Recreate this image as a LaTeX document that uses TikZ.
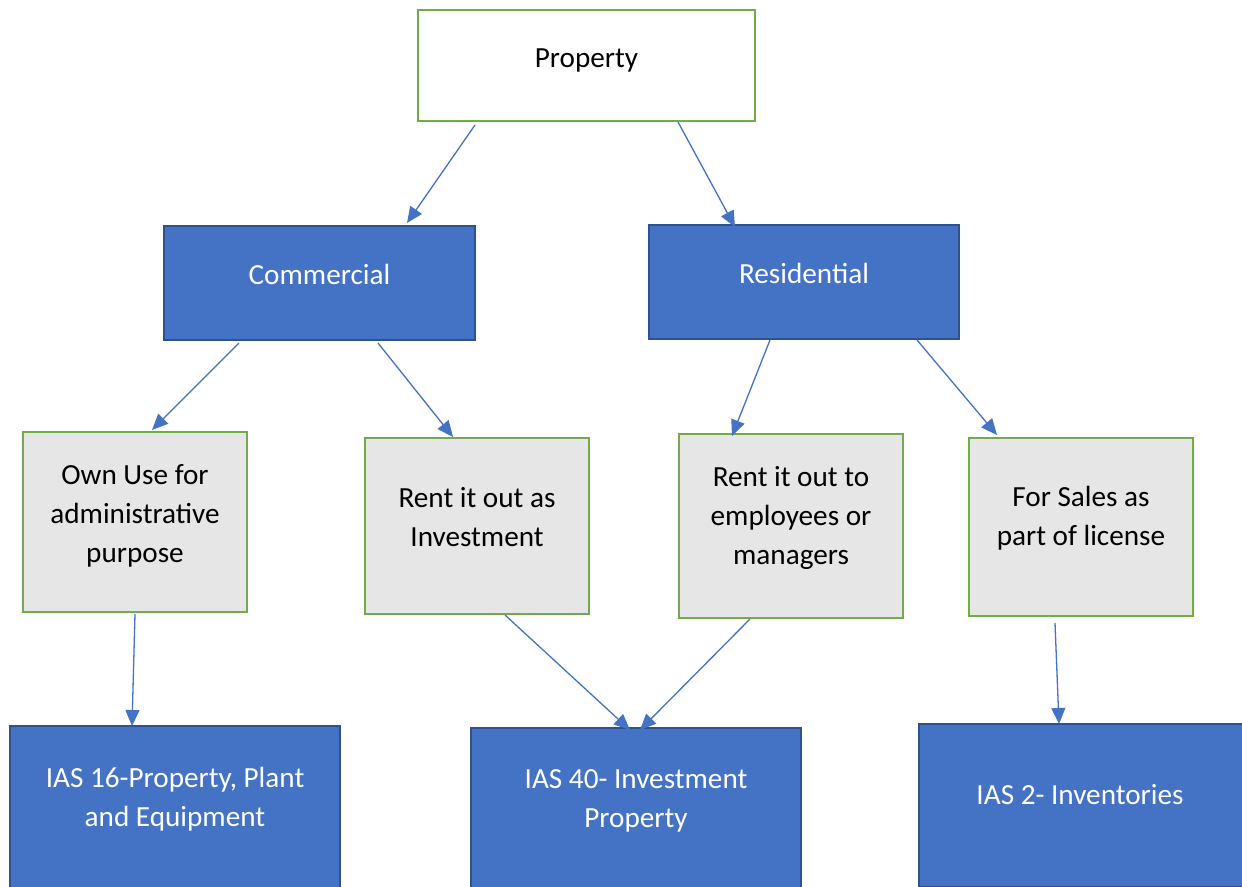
\documentclass[tikz,border=0pt]{standalone}
\usepackage{fontspec}
\setmainfont{Carlito}
\usetikzlibrary{arrows.meta}
\definecolor{accblue}{HTML}{4472C4}
\definecolor{darkblue}{HTML}{2F528F}
\definecolor{accgreen}{HTML}{70AD47}
\definecolor{lightgray}{HTML}{E7E6E6}
\tikzset{
  base/.style={rectangle, outer sep=0pt, inner sep=0pt, line width=2.6pt},
  greenbox/.style={base, draw=accgreen, fill=lightgray},
  whitebox/.style={base, draw=accgreen, fill=white},
  bluebox/.style={base, draw=darkblue, fill=accblue},
  txtdark/.style={font=\fontsize{29.2}{39}\selectfont, text=black, align=center, yshift=8.5pt},
  txtlight/.style={font=\fontsize{29.2}{39}\selectfont, text=white, align=center, yshift=8.5pt},
  conn/.style={draw=accblue, line width=1.3pt, -{Triangle[length=16pt,width=14pt]}}
}
\begin{document}
\begin{tikzpicture}[x=1pt,y=-1pt]
\useasboundingbox (0,0) rectangle (1242,886);
% level 0
\node[whitebox, minimum width=337, minimum height=111, label={[txtdark,yshift=-3pt]center:Property}] (prop) at (586.5,65.5) {};
% level 1
\node[bluebox, minimum width=311, minimum height=114, label={[txtlight]center:Commercial}] (com) at (319.5,283) {};
\node[bluebox, minimum width=310, minimum height=114, label={[txtlight]center:Residential}] (res) at (804,282) {};
% level 2
\node[greenbox, minimum width=224, minimum height=180, label={[txtdark,yshift=-2pt]center:Own Use for\\administrative\\purpose}] (own) at (135,522) {};
\node[greenbox, minimum width=224, minimum height=176, label={[txtdark]center:Rent it out as\\Investment}] (inv) at (477,526) {};
\node[greenbox, minimum width=224, minimum height=184, label={[txtdark]center:Rent it out to\\employees or\\managers}] (emp) at (791,526) {};
\node[greenbox, minimum width=224, minimum height=178, label={[txtdark]center:For Sales as\\part of license}] (sale) at (1081,527) {};
% level 3
\node[bluebox, minimum width=330, minimum height=163, label={[txtlight]center:IAS 16-Property, Plant\\and Equipment}] (ias16) at (175,807.5) {};
\node[bluebox, minimum width=330, minimum height=163, label={[txtlight]center:IAS 40- Investment\\Property}] (ias40) at (636,809.5) {};
\node[bluebox, minimum width=330, minimum height=163, anchor=north west] (ias2) at (919,724) {};
\node[txtlight, yshift=-8.5pt] (ias2t) at (1080,795) {IAS 2- Inventories};
% connectors
\draw[conn] ([xshift=57pt,yshift=-4pt]prop.south west) -- ([xshift=243pt,yshift=3pt]com.north west);
\draw[conn] ([xshift=260pt,yshift=-1pt]prop.south west) -- ([xshift=86pt,yshift=-2pt]res.north west);
\draw[conn] ([xshift=75pt,yshift=-3pt]com.south west) -- ([xshift=129pt,yshift=2pt]own.north west);
\draw[conn] ([xshift=214pt,yshift=-3pt]com.south west) -- ([xshift=88pt,yshift=1pt]inv.north west);
\draw[conn] ([xshift=121pt,yshift=-1pt]res.south west) -- ([xshift=53pt,yshift=-2pt]emp.north west);
\draw[conn] ([xshift=268pt,yshift=-1pt]res.south west) -- ([xshift=28pt,yshift=3pt]sale.north west);
\draw[conn] ([xshift=112pt,yshift=-2pt]own.south west) -- ([xshift=122pt]ias16.north west);
\draw[conn] ([xshift=140pt,yshift=-1pt]inv.south west) -- ([xshift=159pt,yshift=-2pt]ias40.north west);
\draw[conn] ([xshift=71pt,yshift=-1pt]emp.south west) -- ([xshift=169pt,yshift=-2pt]ias40.north west);
\draw[conn] ([xshift=86pt,yshift=-7pt]sale.south west) -- ([xshift=140pt]ias2.north west);
\end{tikzpicture}
\end{document}
